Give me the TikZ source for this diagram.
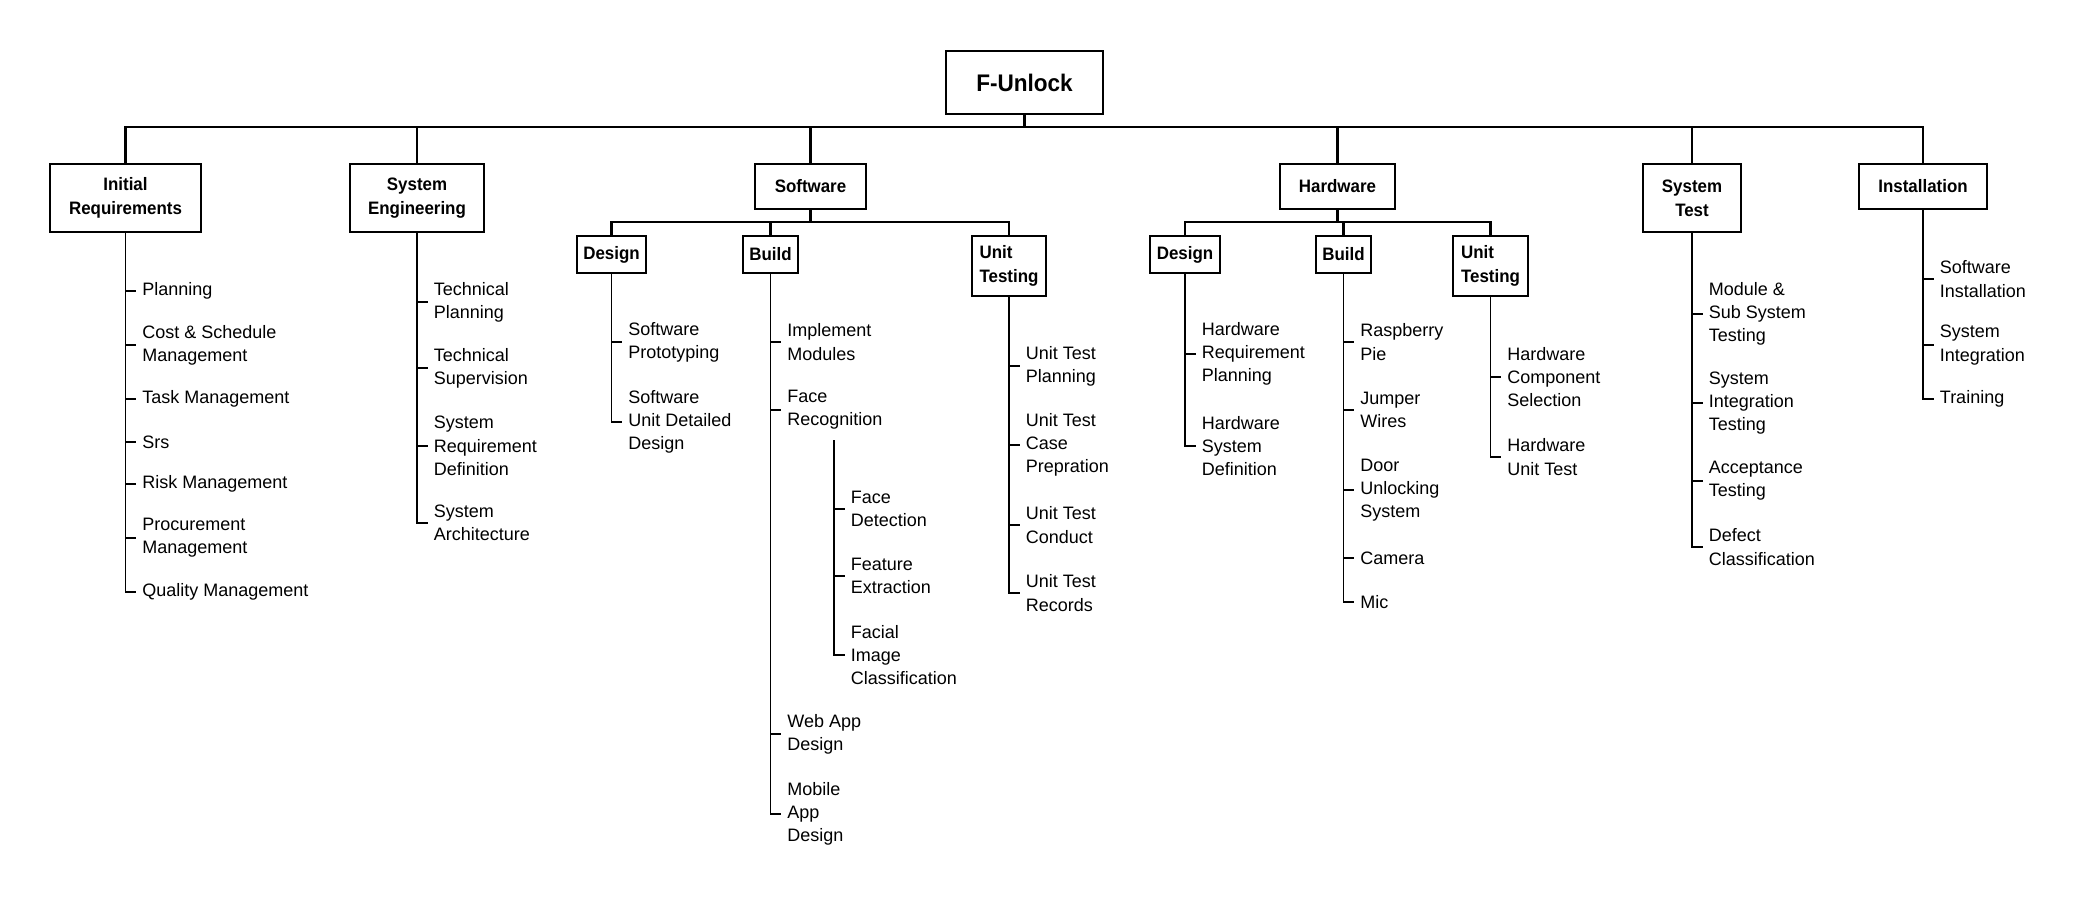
\documentclass[tikz,border=0pt]{standalone}
\usepackage{fontspec}
\setmainfont{Liberation Sans}
\newfontfamily\boxfont{Liberation Sans}[FakeStretch=0.94]
\usetikzlibrary{calc}
\begin{document}
\begin{tikzpicture}[x=0.5pt,y=-0.5pt,
  rootbox/.style={draw, line width=0.55pt, inner sep=0pt, font=\boxfont\bfseries\fontsize{12}{14}\selectfont,
    minimum width=78.5pt, minimum height=31.5pt},
  topbox/.style={draw, line width=0.55pt, inner sep=0pt, align=center,
    font=\boxfont\bfseries\fontsize{9}{12}\selectfont},
  subbox/.style={draw, line width=0.55pt, inner sep=0pt, align=left,
    font=\boxfont\bfseries\fontsize{9}{11.65}\selectfont, minimum height=18.5pt},
  leaf/.style={anchor=west, inner sep=0pt, align=left, font=\fontsize{9}{11.65}\selectfont},
  link/.style={line width=1.1pt},
  leafline/.style={line width=0.85pt}
]
\useasboundingbox (0,0) rectangle (2084,906);

% root
\node[rootbox] (root) at (1024.5,82.5) {F-Unlock};
\coordinate (bus) at (0,127);
\coordinate (subbus) at (0,222);

% level 1
\node[topbox, minimum width=75.5pt, minimum height=34pt] (ir) at (125.5,198) {Initial\\Requirements};
\node[topbox, minimum width=67pt, minimum height=34pt] (se) at (417,198) {System\\Engineering};
\node[topbox, minimum width=55.5pt, minimum height=22.5pt] (sw) at (810.5,186.5) {Software};
\node[topbox, minimum width=57.5pt, minimum height=22.5pt] (hw) at (1337.5,186.5) {Hardware};
\node[topbox, minimum width=49pt, minimum height=34pt] (st) at (1692,198) {System\\Test};
\node[topbox, minimum width=64pt, minimum height=22.5pt] (inst) at (1923,186.5) {Installation};

\foreach \n in {ir,se,sw,hw,st,inst}
  \draw[link] (\n.north) -- (\n.north |- bus) -| (root.south);

% level 2
\node[subbox, minimum width=34.5pt] (swd) at (611.5,254.5) {Design};
\node[subbox, minimum width=27.5pt] (swb) at (770.5,254.5) {Build};
\node[subbox, minimum width=37pt, minimum height=30pt] (swu) at (1009,266) {Unit\\Testing};
\node[subbox, minimum width=35pt] (hwd) at (1185,254.5) {Design};
\node[subbox, minimum width=27.5pt] (hwb) at (1343.5,254.5) {Build};
\node[subbox, minimum width=37.5pt, minimum height=30pt] (hwu) at (1490.5,266) {Unit\\Testing};

\foreach \n in {swd,swb,swu}
  \draw[link] (\n.north) -- (\n.north |- subbus) -| (sw.south);
\foreach \n in {hwd,hwb,hwu}
  \draw[link] (\n.north) -- (\n.north |- subbus) -| (hw.south);

% leaves: Initial Requirements
\foreach \y/\t [count=\i] in {291/Planning, 345/{Cost \& Schedule\\Management}, 399/{Task Management}, 442/Srs, 484/{Risk Management}, 538/{Procurement\\Management}, 592/{Quality Management}}{
  \node[leaf] (ir\i) at (142,\y) {\t};
  \draw[leafline] (ir.south) |- ([xshift=-3pt]ir\i.west);
}
% System Engineering
\foreach \y/\t [count=\i] in {302/{Technical\\Planning}, 368/{Technical\\Supervision}, 446/{System\\Requirement\\Definition}, 523/{System\\Architecture}}{
  \node[leaf] (se\i) at (433.5,\y) {\t};
  \draw[leafline] (se.south) |- ([xshift=-3pt]se\i.west);
}
% Software Design
\foreach \y/\t [count=\i] in {342/{Software\\Prototyping}, 422/{Software\\Unit Detailed\\Design}}{
  \node[leaf] (swd\i) at (628,\y) {\t};
  \draw[leafline] (swd.south) |- ([xshift=-3pt]swd\i.west);
}
% Software Build
\foreach \y/\t [count=\i] in {342/{Implement\\Modules}, 410/{Face\\Recognition}, 734/{Web App\\Design}, 814/{Mobile\\App\\Design}}{
  \node[leaf] (swb\i) at (787,\y) {\t};
  \draw[leafline] (swb.south) |- ([xshift=-3pt]swb\i.west);
}
% Face Recognition sub-list
\coordinate (frtop) at (834,440);
\foreach \y/\t [count=\i] in {509/{Face\\Detection}, 576/{Feature\\Extraction}, 655/{Facial\\Image\\Classification}}{
  \node[leaf] (fr\i) at (850.5,\y) {\t};
  \draw[leafline] (frtop) |- ([xshift=-3pt]fr\i.west);
}
% Software Unit Testing
\foreach \y/\t [count=\i] in {366/{Unit Test\\Planning}, 445/{Unit Test\\Case\\Prepration}, 525/{Unit Test\\Conduct}, 593/{Unit Test\\Records}}{
  \node[leaf] (swu\i) at (1025.5,\y) {\t};
  \draw[leafline] (swu.south) |- ([xshift=-3pt]swu\i.west);
}
% Hardware Design
\foreach \y/\t [count=\i] in {354/{Hardware\\Requirement\\Planning}, 446/{Hardware\\System\\Definition}}{
  \node[leaf] (hwd\i) at (1201.5,\y) {\t};
  \draw[leafline] (hwd.south) |- ([xshift=-3pt]hwd\i.west);
}
% Hardware Build
\foreach \y/\t [count=\i] in {342/{Raspberry\\Pie}, 410/{Jumper\\Wires}, 490/{Door\\Unlocking\\System}, 558/Camera, 602/Mic}{
  \node[leaf] (hwb\i) at (1360,\y) {\t};
  \draw[leafline] (hwb.south) |- ([xshift=-3pt]hwb\i.west);
}
% Hardware Unit Testing
\foreach \y/\t [count=\i] in {377/{Hardware\\Component\\Selection}, 457/{Hardware\\Unit Test}}{
  \node[leaf] (hwu\i) at (1507,\y) {\t};
  \draw[leafline] (hwu.south) |- ([xshift=-3pt]hwu\i.west);
}
% System Test
\foreach \y/\t [count=\i] in {314/{Module \&\\Sub System\\Testing}, 403/{System\\Integration\\Testing}, 481/{Acceptance\\Testing}, 547/{Defect\\Classification}}{
  \node[leaf] (st\i) at (1708.5,\y) {\t};
  \draw[leafline] (st.south) |- ([xshift=-3pt]st\i.west);
}
% Installation
\foreach \y/\t [count=\i] in {279/{Software\\Installation}, 345/{System\\Integration}, 399/Training}{
  \node[leaf] (inst\i) at (1939.5,\y) {\t};
  \draw[leafline] (inst.south) |- ([xshift=-3pt]inst\i.west);
}
\end{tikzpicture}
\end{document}
